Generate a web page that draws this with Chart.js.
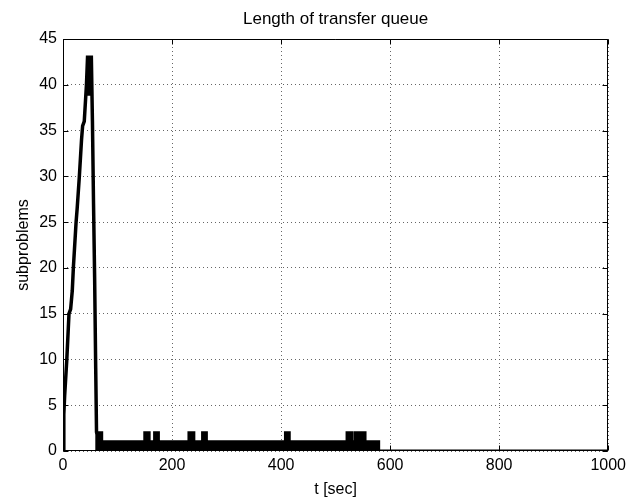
<!DOCTYPE html>
<html><head><meta charset="utf-8">
<script src="https://cdn.jsdelivr.net/npm/chart.js@4"></script>
<style>html,body{margin:0;padding:0;background:#fff}#wrap{width:631px;height:503px;position:relative}</style>
</head><body><div id="wrap"><canvas id="c"></canvas></div>
<script>
const titleText = 'Length of transfer queue';
const xLabel = 't [sec]';
const yLabel = 'subproblems';
const xTicks = [0, 200, 400, 600, 800, 1000];
const yTicks = [0, 5, 10, 15, 20, 25, 30, 35, 40, 45];

// build-up and drain of the queue (seconds, queue length)
const peakT = [0, 1.5, 3, 7, 11, 14, 17, 19, 24, 26, 30, 34, 36, 39, 43, 45, 47, 48, 49, 52, 54, 56, 58, 60, 61.5, 62];
const peakV = [0, 4, 6, 10, 15, 15.5, 17.5, 20, 25, 26.5, 30, 34, 35.5, 36, 40, 43, 43, 39, 43, 43, 36, 27, 19, 9, 2, 2];

// rapidly alternating 0/1 period: upper envelope (stepped)
const busyT = [59, 71, 150, 158, 168, 175, 231, 240, 256, 263, 408, 415, 521, 530, 536, 542, 545, 554, 579, 1000];
const busyV = [2, 1, 2, 1, 2, 1, 2, 1, 2, 1, 2, 1, 2, 1, 2, 1, 2, 1, 0, 0];

const FONT = "'Liberation Sans', Arial, Helvetica, sans-serif";

const frame = {
  id: 'frame',
  afterDraw(chart) {
    const {ctx, chartArea: a, scales: {x, y}} = chart;
    const L = Math.round(a.left) + 0.5, R = Math.round(a.right) - 0.5;
    const T = Math.round(a.top) + 0.5, B = Math.round(a.bottom) - 0.5;
    ctx.save();
    ctx.strokeStyle = '#000';
    ctx.lineWidth = 1;
    ctx.beginPath();
    ctx.rect(L, T, R - L, B - T);
    const tl = 5;
    xTicks.forEach(v => {
      const px = Math.round(x.getPixelForValue(v)) + 0.5;
      ctx.moveTo(px, B); ctx.lineTo(px, B - tl);
      ctx.moveTo(px, T); ctx.lineTo(px, T + tl);
    });
    yTicks.forEach(v => {
      const py = Math.round(y.getPixelForValue(v)) + 0.5;
      ctx.moveTo(L, py); ctx.lineTo(L + tl, py);
      ctx.moveTo(R, py); ctx.lineTo(R - tl, py);
    });
    ctx.stroke();
    ctx.restore();
  }
};

new Chart(document.getElementById('c'), {
  type: 'line',
  data: {
    datasets: [
      {
        data: peakT.map((t, i) => ({x: t, y: peakV[i]})),
        borderColor: '#000', borderWidth: 3.5, pointRadius: 0, tension: 0, fill: false
      },
      {
        data: busyT.map((t, i) => ({x: t, y: busyV[i]})),
        borderColor: '#000', backgroundColor: '#000', borderWidth: 3, pointRadius: 0,
        stepped: true, fill: 'origin'
      }
    ]
  },
  options: {
    responsive: true, maintainAspectRatio: false, animation: false,
    layout: {padding: {left: 0, right: 22, top: 0, bottom: 0}},
    plugins: {
      legend: {display: false}, tooltip: {enabled: false},
      title: {display: true, fullSize: false, text: titleText, color: '#000',
        font: {family: FONT, size: 17, weight: 'normal', lineHeight: 1.2},
        padding: {top: 9, bottom: 9.6}}
    },
    scales: {
      x: {
        type: 'linear', min: 0, max: 1000,
        afterBuildTicks: s => { s.ticks = xTicks.map(v => ({value: v})); },
        afterFit: s => { s.height = 52; },
        ticks: {color: '#000', font: {family: FONT, size: 16}, padding: 5, maxRotation: 0,
          callback: v => String(v)},
        grid: {color: '#666', drawTicks: false, lineWidth: 1},
        border: {display: false, dash: [1, 3]},
        title: {display: true, text: xLabel, color: '#000', font: {family: FONT, size: 16}, padding: {top: 0, bottom: 4}}
      },
      y: {
        min: 0, max: 45,
        afterBuildTicks: s => { s.ticks = yTicks.map(v => ({value: v})); },
        afterFit: s => { s.width = 63; },
        ticks: {color: '#000', font: {family: FONT, size: 16}, padding: 6, callback: v => String(v)},
        grid: {color: '#666', drawTicks: false, lineWidth: 1},
        border: {display: false, dash: [1, 3]},
        title: {display: true, text: yLabel, color: '#000', font: {family: FONT, size: 16}, padding: {top: 14, bottom: 0}}
      }
    }
  },
  plugins: [frame]
});
</script>
</body></html>
